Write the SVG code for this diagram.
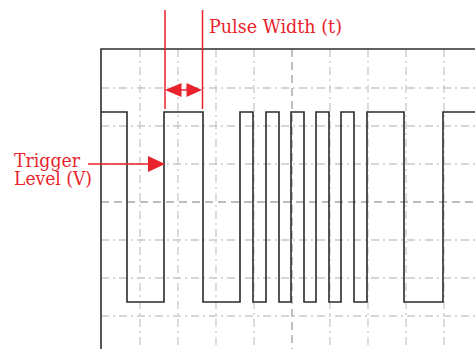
<svg xmlns="http://www.w3.org/2000/svg" width="475" height="349" viewBox="0 0 475 349">
<style>
.grid{stroke:#c6c9cd;stroke-width:1.3;stroke-dasharray:8 4 2 4;fill:none}
.center{stroke:#a3a7ac;stroke-width:1.4;stroke-dasharray:8 5;fill:none}
.frame{stroke:#2e2e2e;stroke-width:1.6;fill:none}
.sig{stroke:#2b2b2b;stroke-width:1.6;fill:none;stroke-linejoin:miter}
.red{stroke:#e8232b;stroke-width:1.5;fill:none}
.redfill{fill:#e8232b}
.lbl{font-family:"DejaVu Serif","Liberation Serif",serif;font-size:19px;fill:#e8232b}
</style>
<rect width="475" height="349" fill="#ffffff"/>
<g id="grid">
<path class="grid" d="M140,49V349M178,49V349M216,49V349M254,49V349M330,49V349M368,49V349M406,49V349M444,49V349"/>
<path class="grid" d="M101,88H475M101,126H475M101,164H475M101,240H475M101,278H475M101,316H475"/>
<path class="center" d="M292,49V349M101,202H475"/>
</g>
<g id="frame">
<path class="frame" d="M101,349V49H475"/>
</g>
<g id="signal">
<path class="sig" d="M101,112H127V302H164V112H203V302H240V112H253V302H266V112H279V302H291V112H304V302H316V112H329V302H341V112H354V302H367V112H404V302H443V112H475"/>
</g>
<g id="connectors">
<path class="red" d="M165,10V109M202.5,10V109"/>
<path class="red" d="M181,90H187" stroke-width="2"/>
<polygon class="redfill" points="165,90 181.5,83 181.5,97"/>
<polygon class="redfill" points="202,90 186.5,83 186.5,97"/>
<path class="red" d="M88,164H149" stroke-width="2"/>
<polygon class="redfill" points="165,164 148,156 148,172"/>
</g>
<g id="pulse-width-label">
<text class="lbl" x="209" y="33" textLength="133" lengthAdjust="spacingAndGlyphs">Pulse Width (t)</text>
</g>
<g id="trigger-label">
<text class="lbl" x="14" y="167" textLength="66" lengthAdjust="spacingAndGlyphs">Trigger</text>
<text class="lbl" x="14" y="185" textLength="78" lengthAdjust="spacingAndGlyphs">Level (V)</text>
</g>
</svg>
